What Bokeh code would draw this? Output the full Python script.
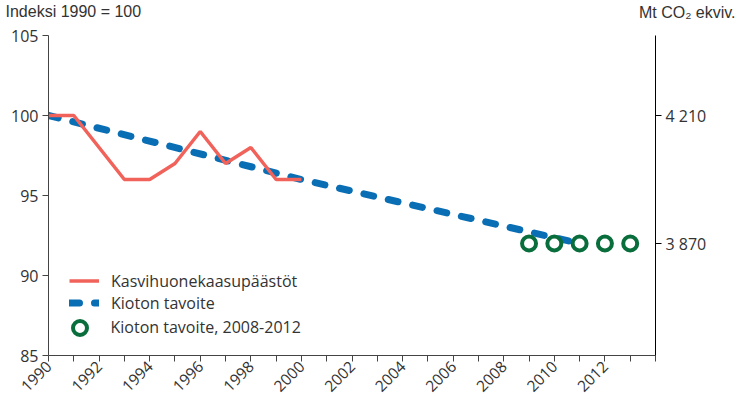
import math
from bokeh.plotting import figure
from bokeh.models import (LinearAxis, Range1d, FixedTicker, Label, Legend, LegendItem,
                          CustomJSTickFormatter)
from bokeh.embed import file_html
from bokeh.resources import INLINE

# ---- data ----
emis_years = [1990, 1991, 1992, 1993, 1994, 1995, 1996, 1997, 1998, 1999, 2000]
emis_vals = [100, 100, 98, 96, 96, 97, 99, 97, 98, 96, 96]
target_years = [1990, 2000, 2011]
target_vals = [100, 96, 92]
period_years = [2009, 2010, 2011, 2012, 2013]
period_vals = [92, 92, 92, 92, 92]
left_ticks = [85, 90, 95, 100, 105]
right_ticks = [3870, 4210]
right_labels = {3870: "3 870", 4210: "4 210"}
x_ticks = list(range(1990, 2015))
x_label_years = list(range(1990, 2013, 2))

FONT = "Open Sans"
TFONT = "Liberation Sans"
TXT = "#333333"

p = figure(width=740, height=400, output_backend="svg", toolbar_location=None,
           x_range=Range1d(1990, 2014), y_range=Range1d(85, 105),
           min_border_left=48, min_border_right=85, min_border_top=35, min_border_bottom=45)
p.outline_line_color = None
p.xgrid.visible = False
p.ygrid.visible = False

# axes
p.yaxis.ticker = FixedTicker(ticks=left_ticks)
p.yaxis.minor_tick_line_color = None
p.yaxis.major_tick_in = 0
p.yaxis.major_tick_out = 6
p.yaxis.axis_line_color = "#444444"
p.yaxis.major_tick_line_color = "#444444"
p.yaxis.major_label_text_font = FONT
p.yaxis.major_label_text_font_size = "16px"
p.yaxis.major_label_text_color = TXT
p.yaxis.major_label_standoff = 4

p.xaxis.ticker = FixedTicker(ticks=x_ticks)
p.xaxis.minor_tick_line_color = None
p.xaxis.major_tick_in = 0
p.xaxis.major_tick_out = 6
p.xaxis.axis_line_color = "#444444"
p.xaxis.major_tick_line_color = "#444444"
p.xaxis.major_label_orientation = math.pi / 4
p.xaxis.major_label_text_font = FONT
p.xaxis.major_label_text_font_size = "15.5px"
p.xaxis.major_label_text_color = TXT
p.xaxis.major_label_standoff = 2
p.xaxis.formatter = CustomJSTickFormatter(args=dict(show=x_label_years),
                                          code="return show.includes(tick) ? String(tick) : '';")

p.extra_y_ranges = {"mt": Range1d(3572.5, 4422.5)}
ax2 = LinearAxis(y_range_name="mt", ticker=FixedTicker(ticks=right_ticks))
ax2.formatter = CustomJSTickFormatter(args=dict(lab={str(k): v for k, v in right_labels.items()}),
                                      code="return lab[String(tick)] || String(tick);")
ax2.minor_tick_line_color = None
ax2.major_tick_in = 0
ax2.major_tick_out = 6
ax2.axis_line_color = "black"
ax2.major_tick_line_color = "black"
ax2.major_label_text_font = FONT
ax2.major_label_text_font_size = "16px"
ax2.major_label_text_color = TXT
ax2.major_label_standoff = 4
p.add_layout(ax2, "right")

# glyphs
r_target = p.line(target_years, target_vals, line_color="#0a6eb4", line_width=7,
                  line_dash="10 15", line_cap="round")
r_emis = p.line(emis_years, emis_vals, line_color="#f0625a", line_width=3.5)
r_period = p.scatter(period_years, period_vals, size=14, marker="circle",
                     fill_color="white", line_color="#0a6e3c", line_width=4)

leg1 = Legend(items=[LegendItem(label="Kasvihuonekaasupäästöt", renderers=[r_emis]),
                     LegendItem(label="Kioton tavoite", renderers=[r_target])],
              location=(21, 41.5), border_line_color=None, background_fill_alpha=0,
              label_text_font=FONT, label_text_font_size="16px", label_text_color=TXT,
              spacing=0, padding=0, glyph_width=30, label_standoff=12, label_height=21,
              glyph_height=21)
leg2 = Legend(items=[LegendItem(label="Kioton tavoite, 2008-2012", renderers=[r_period])],
              location=(13.5, 10.5), border_line_color=None, background_fill_alpha=0,
              label_text_font=FONT, label_text_font_size="16px", label_text_color=TXT,
              spacing=0, padding=0, glyph_width=35, label_standoff=14, label_height=21,
              glyph_height=35)
p.add_layout(leg1, "center")
p.add_layout(leg2, "center")

p.add_layout(Label(x=-43, y=23.7, x_units="screen", y_units="screen", text="Indeksi 1990 = 100",
                   text_font=TFONT, text_font_size="16px", text_color=TXT,
                   text_baseline="middle"), "above")
p.add_layout(Label(x=687, y=5.9, x_units="screen", y_units="screen", text="Mt CO₂ ekviv.",
                   text_font=TFONT, text_font_size="16px", text_color=TXT,
                   text_baseline="middle", text_align="right"), "above")

open("out.html", "w").write(file_html(p, INLINE))
